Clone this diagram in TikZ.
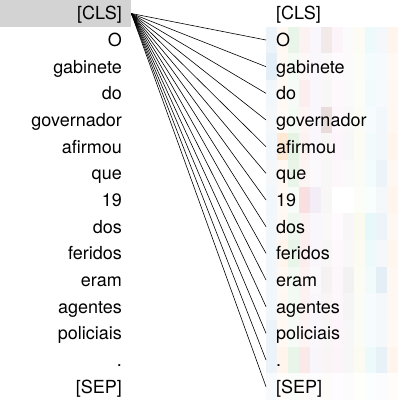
\documentclass[tikz,border=0pt]{standalone}
\usepackage{fontspec}
\setmainfont{TeX Gyre Heros}
\usepackage{xcolor}
\usetikzlibrary{positioning}

% one colour per head
\definecolor{h1}{HTML}{1F77B4}
\definecolor{h2}{HTML}{FF7F0E}
\definecolor{h3}{HTML}{2CA02C}
\definecolor{h4}{HTML}{D62728}
\definecolor{h5}{HTML}{9467BD}
\definecolor{h6}{HTML}{8C564B}
\definecolor{h7}{HTML}{E377C2}
\definecolor{h8}{HTML}{7F7F7F}
\definecolor{h9}{HTML}{BCBD22}
\definecolor{h10}{HTML}{17BECF}
\definecolor{h11}{HTML}{1F77B4}
\definecolor{h12}{HTML}{FF7F0E}
\definecolor{hlgray}{HTML}{D3D3D3}

\begin{document}
\begin{tikzpicture}[x=1pt, y=-1pt,
  tok/.style={font=\fontsize{18}{20}\selectfont, inner sep=0pt},
  hl/.style={fill=hlgray, inner sep=0pt, minimum width=131pt, minimum height=26.67pt},
  link/.style={line width=0.6pt, black}]
  \useasboundingbox (0,0) rectangle (398,400);

  % faint head cells behind the right column
  \foreach \r/\vals in {
     1/{.08,.05,.10,.06,.05,.12,.08,.03,.05,.08,.05,.08},
     2/{.12,.05,.05,.04,.05,.04,.04,.03,.03,.05,.04,.05},
     3/{.06,.05,.04,.08,.05,.05,.05,.04,.03,.06,.04,.06},
     4/{.05,.04,.05,.05,.05,.20,.06,.05,.04,.04,.06,.06},
     5/{.06,.18,.12,.06,.05,.05,.07,.06,.05,.06,.06,.08},
     6/{.05,.06,.10,.05,.04,.05,.06,.04,.04,.05,.08,.06},
     7/{.06,.05,.03,.15,.12,.05,0,0,.03,.03,.05,.08},
     8/{.06,.06,.08,.06,.05,.04,.04,.06,.08,.10,.08,.06},
     9/{.06,.08,.10,.08,.05,.05,.05,.05,.06,.08,.05,.07},
    10/{.06,.05,.06,.06,.04,.08,.06,.10,.05,.06,.12,.06},
    11/{.06,.06,.06,.06,.05,.06,.06,.08,.04,.04,.05,.06},
    12/{.08,.05,.04,.05,.05,.05,.07,.06,.04,.04,.05,.05},
    13/{.08,.08,.10,.10,.06,.06,.08,.06,.06,.08,.10,.08},
    14/{.03,.02,.02,.02,.02,.02,.02,.02,.02,.02,.02,.02}}
    \foreach \o [count=\c] in \vals
      \fill[h\c, fill opacity=\o] ({266+11*(\c-1)},{\r*26.6667}) rectangle ++(11,26.6667);

  \node[hl, anchor=north west] (hl) at (0,0) {};

  \foreach \t [count=\i from 0] in {{[CLS]},O,gabinete,do,governador,afirmou,que,19,dos,feridos,eram,agentes,policiais,.,{[SEP]}} {
    \node[tok, anchor=base east] (l\i) at (122,{13.33+26.6667*\i+6.5}) {\t};
    \node[tok, anchor=base west] (r\i) at (276,{13.33+26.6667*\i+6.5}) {\t};
    \coordinate (e\i) at (266,{13.33+26.6667*\i});
  }

  \foreach \i in {1,...,14}
    \draw[link] (hl.east) -- (e\i);
\end{tikzpicture}
\end{document}
